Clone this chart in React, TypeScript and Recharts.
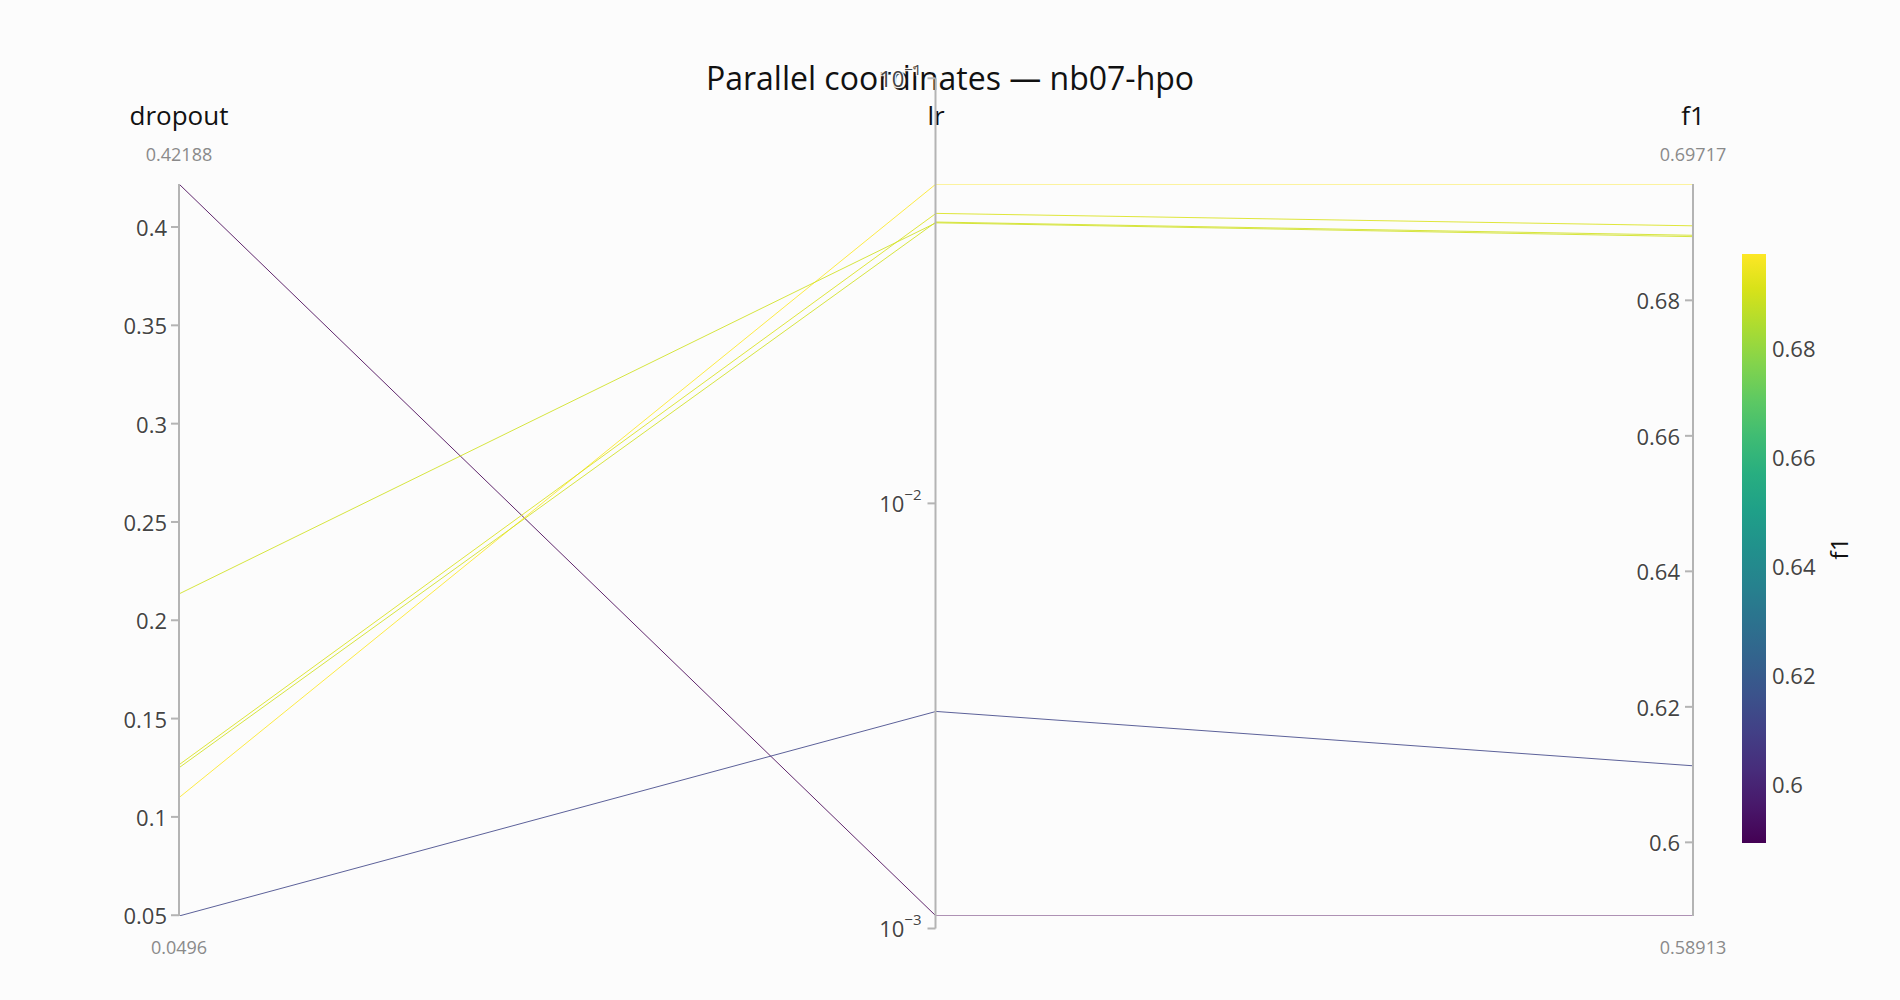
import React from 'react';
import { ComposedChart, Line, Bar, XAxis, YAxis, Label } from 'recharts';

// ---------- data ----------
const dimensionNames = ['dropout', 'lr', 'f1'];
const trialDropout = [0.42188, 0.0496, 0.1098, 0.1265, 0.125, 0.2134];
const trialLr = [0.00107, 0.00324, 0.0564, 0.0481, 0.0459, 0.0457];
const trialF1 = [0.58913, 0.6113, 0.69717, 0.691, 0.6896, 0.6894];

const dropoutTicks = [0.05, 0.1, 0.15, 0.2, 0.25, 0.3, 0.35, 0.4];
const lrTicks = [0.001, 0.01, 0.1];
const lrTickExponents = ['\u22123', '\u22122', '\u22121'];
const f1Ticks = [0.6, 0.62, 0.64, 0.66, 0.68];
const colorbarTicks = [0.6, 0.62, 0.64, 0.66, 0.68];
const titleText = 'Parallel coordinates \u2014 nb07-hpo';
const colorbarTitle = 'f1';

const viridisStops: [number, string][] = [
  [0, '#440154'], [0.0627, '#48186a'], [0.1255, '#472d7b'], [0.1882, '#424086'],
  [0.251, '#3b528b'], [0.3137, '#33638d'], [0.3765, '#2c728e'], [0.4392, '#26828e'],
  [0.502, '#21918c'], [0.5647, '#1fa088'], [0.6275, '#28ae80'], [0.6902, '#3fbc73'],
  [0.7529, '#5ec962'], [0.8157, '#84d44b'], [0.8784, '#addc30'], [0.9412, '#d8e219'],
  [1, '#fde725'],
];

// ---------- helpers ----------
const FONT = '"Open Sans", "Noto Sans", sans-serif';
const hexToRgb = (h: string) => [1, 3, 5].map((i) => parseInt(h.slice(i, i + 2), 16));
function viridis(t: number): string {
  const u = Math.max(0, Math.min(1, t));
  for (let i = 1; i < viridisStops.length; i++) {
    const [t1, c1] = viridisStops[i];
    const [t0, c0] = viridisStops[i - 1];
    if (u <= t1) {
      const f = (u - t0) / (t1 - t0);
      const a = hexToRgb(c0);
      const b = hexToRgb(c1);
      const c = a.map((v, k) => Math.round(v + (b[k] - v) * f));
      return `rgb(${c[0]},${c[1]},${c[2]})`;
    }
  }
  return viridisStops[viridisStops.length - 1][1];
}

const dMin = Math.min(...trialDropout);
const dMax = Math.max(...trialDropout);
const fMin = Math.min(...trialF1);
const fMax = Math.max(...trialF1);
const lrLogMin = Math.log10(Math.min(...trialLr));
const lrLogMax = Math.log10(Math.max(...trialLr));
const rangeMaxLabels = [String(dMax), '', String(fMax)];
const rangeMinLabels = [String(dMin), '', String(fMin)];

const trialLines = trialDropout.map((d, i) => ({
  color: viridis((trialF1[i] - fMin) / (fMax - fMin)),
  points: [
    { x: 0, y: (d - dMin) / (dMax - dMin) },
    { x: 1, y: (Math.log10(trialLr[i]) - lrLogMin) / (lrLogMax - lrLogMin) },
    { x: 2, y: (trialF1[i] - fMin) / (fMax - fMin) },
  ],
}));

const colorbarData = [{ name: 'f1', range: [fMin, fMax] }];

// ---------- layout ----------
const W = 1900;
const H = 1000;
const plotLeft = 179;
const plotRight = 1692;
const plotTop = 184;
const plotBottom = 916;
const TOP_H = 100;
const BOT_H = 50;
const LEFT_W = 90;
const RIGHT_W = 1;
const lrX = (plotLeft + plotRight) / 2;
const LR_W = 90;
const pxPerDecade = (plotBottom - plotTop) / (lrLogMax - lrLogMin);
const lrTop = plotTop - (Math.log10(lrTicks[lrTicks.length - 1]) - lrLogMax) * pxPerDecade;
const lrBottom = plotBottom + (lrLogMin - Math.log10(lrTicks[0])) * pxPerDecade;
const cbLeft = 1742;
const cbRight = 1766;
const cbTop = 254;
const cbBottom = 843;
const CB_W = 72;

const AXIS_COLOR = '#b4b4b4';
const TICK_COLOR = '#444';
const halo = '1px 1px 1px #fff, -1px -1px 1px #fff, 1px -1px 1px #fff, -1px 1px 1px #fff';

const TopTick = (props: any) => {
  const { x, y, payload } = props;
  const i = payload.value as number;
  return (
    <g>
      <text x={x} y={y - 69} textAnchor="middle" dominantBaseline="central" fontFamily={FONT} fontSize={26} fill="#111">
        {dimensionNames[i]}
      </text>
      <text x={x} y={y - 30} textAnchor="middle" dominantBaseline="central" fontFamily={FONT} fontSize={18} fill="#8a8a8a">
        {rangeMaxLabels[i]}
      </text>
    </g>
  );
};

const BottomTick = (props: any) => {
  const { x, y, payload } = props;
  const i = payload.value as number;
  return (
    <text x={x} y={y + 31} textAnchor="middle" dominantBaseline="central" fontFamily={FONT} fontSize={18} fill="#8a8a8a">
      {rangeMinLabels[i]}
    </text>
  );
};

const NumTickEnd = (props: any) => {
  const { x, y, payload } = props;
  return (
    <text x={x} y={y} textAnchor="end" dominantBaseline="central" fontFamily={FONT} fontSize={22} fill={TICK_COLOR} style={{ textShadow: halo }}>
      {String(payload.value)}
    </text>
  );
};

const LrTick = (props: any) => {
  const { x, y, payload, index } = props;
  const idx = lrTicks.indexOf(payload.value);
  const exp = lrTickExponents[idx >= 0 ? idx : index];
  return (
    <text x={x} y={y} textAnchor="end" dominantBaseline="central" fontFamily={FONT} fontSize={22} fill={TICK_COLOR} style={{ textShadow: halo }}>
      <tspan>10</tspan>
      <tspan dy={-9} fontSize={15}>{exp}</tspan>
    </text>
  );
};

const CbTick = (props: any) => {
  const { x, y, payload } = props;
  return (
    <text x={x} y={y} textAnchor="start" dominantBaseline="central" fontFamily={FONT} fontSize={22} fill={TICK_COLOR}>
      {String(payload.value)}
    </text>
  );
};

const CbTitle = (props: any) => {
  const vb = props.viewBox || {};
  const cx = vb.x + vb.width;
  const cy = vb.y + vb.height / 2;
  return (
    <text x={cx} y={cy} transform={`rotate(-90 ${cx} ${cy})`} textAnchor="middle" dominantBaseline="central" fontFamily={FONT} fontSize={24} fill="#111">
      {colorbarTitle}
    </text>
  );
};

const abs: React.CSSProperties = { position: 'absolute', left: 0, top: 0 };

export default function App() {
  return (
    <div style={{ position: 'absolute', left: 0, top: 0, width: W, height: H, background: '#fcfcfc', overflow: 'hidden' }}>
      <div style={abs}>
        <ComposedChart
          width={W}
          height={H}
          margin={{ top: plotTop - TOP_H, bottom: H - plotBottom - BOT_H, left: plotLeft - LEFT_W, right: W - plotRight - RIGHT_W }}
        >
          <XAxis xAxisId="top" orientation="top" type="number" dataKey="x" domain={[0, 2]} ticks={[0, 1, 2]} interval={0}
            height={TOP_H} axisLine={false} tickLine={false} tickSize={0} tickMargin={0} tick={TopTick} allowDataOverflow />
          <XAxis xAxisId="bottom" orientation="bottom" type="number" dataKey="x" domain={[0, 2]} ticks={[0, 1, 2]} interval={0}
            height={BOT_H} axisLine={false} tickLine={false} tickSize={0} tickMargin={0} tick={BottomTick} allowDataOverflow />
          <YAxis yAxisId="norm" hide type="number" domain={[0, 1]} allowDataOverflow />
          <YAxis yAxisId="dropout" orientation="left" type="number" width={LEFT_W} domain={[dMin, dMax]} ticks={dropoutTicks}
            interval={0} allowDataOverflow tickSize={8} tickMargin={4} tick={NumTickEnd}
            axisLine={{ stroke: AXIS_COLOR, strokeWidth: 2 }} tickLine={{ stroke: AXIS_COLOR, strokeWidth: 2 }} />
          <YAxis yAxisId="f1" orientation="right" mirror type="number" width={RIGHT_W} domain={[fMin, fMax]} ticks={f1Ticks}
            interval={0} allowDataOverflow tickSize={8} tickMargin={5} tick={NumTickEnd}
            axisLine={{ stroke: AXIS_COLOR, strokeWidth: 2 }} tickLine={{ stroke: AXIS_COLOR, strokeWidth: 2 }} />
          {trialLines.map((t, i) => (
            <Line key={i} xAxisId="bottom" yAxisId="norm" data={t.points} dataKey="y" type="linear" stroke={t.color}
              strokeOpacity={0.85} strokeWidth={1} dot={false} activeDot={false} isAnimationActive={false} />
          ))}
        </ComposedChart>
      </div>

      <div style={{ position: 'absolute', left: 0, top: 58, width: W, textAlign: 'center', fontFamily: FONT, fontSize: 32, lineHeight: '40px', color: '#111' }}>
        {titleText}
      </div>

      <div style={abs}>
        <ComposedChart width={W} height={H} margin={{ top: lrTop, bottom: H - lrBottom, left: lrX - LR_W, right: W - lrX - 10 }}>
          <XAxis xAxisId="lrx" hide type="number" domain={[0, 1]} />
          <YAxis yAxisId="lr" orientation="left" scale="log" type="number" width={LR_W} domain={[lrTicks[0], lrTicks[lrTicks.length - 1]]}
            ticks={lrTicks} interval={0} allowDataOverflow tickSize={8} tickMargin={6} tick={LrTick}
            axisLine={{ stroke: AXIS_COLOR, strokeWidth: 2 }} tickLine={{ stroke: AXIS_COLOR, strokeWidth: 2 }} />
        </ComposedChart>
      </div>

      <div style={abs}>
        <ComposedChart width={W} height={H} data={colorbarData} barCategoryGap={0}
          margin={{ top: cbTop, bottom: H - cbBottom, left: cbLeft, right: W - cbRight - CB_W }}>
          <defs>
            <linearGradient id="viridisGrad" x1="0" y1="1" x2="0" y2="0">
              {viridisStops.map(([o, c]) => (
                <stop key={o} offset={o} stopColor={c} />
              ))}
            </linearGradient>
          </defs>
          <XAxis xAxisId="cbx" hide type="category" dataKey="name" />
          <YAxis yAxisId="cb" orientation="right" type="number" width={CB_W} domain={[fMin, fMax]} ticks={colorbarTicks}
            interval={0} allowDataOverflow axisLine={false} tickLine={false} tickSize={0} tickMargin={6} tick={CbTick}>
            <Label content={CbTitle} />
          </YAxis>
          <Bar xAxisId="cbx" yAxisId="cb" dataKey="range" fill="url(#viridisGrad)" isAnimationActive={false} />
        </ComposedChart>
      </div>
    </div>
  );
}
